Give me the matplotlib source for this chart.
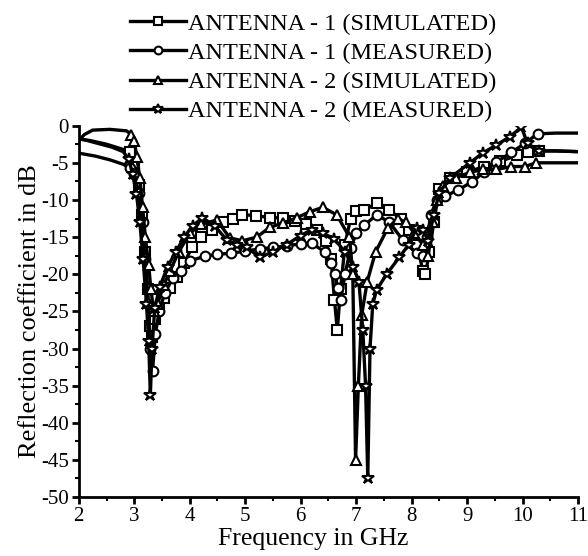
import matplotlib
matplotlib.use("Agg")
import matplotlib.pyplot as plt
from matplotlib.ticker import MultipleLocator

plt.rcParams['font.family'] = ['Liberation Serif', 'DejaVu Serif']
plt.rcParams['axes.unicode_minus'] = False

# ---- datos ----
labels = ['ANTENNA - 1 (SIMULATED)', 'ANTENNA - 1 (MEASURED)',
          'ANTENNA - 2 (SIMULATED)', 'ANTENNA - 2 (MEASURED)']

f_a1_sim = [2.0, 2.2, 2.5, 2.8, 2.92, 3.0, 3.08, 3.14, 3.2, 3.24, 3.28, 3.32, 3.38, 3.45,
            3.53, 3.65, 3.77, 3.9, 4.04, 4.2, 4.4, 4.6, 4.78, 4.95, 5.2, 5.44, 5.68, 5.9,
            6.1, 6.3, 6.45, 6.55, 6.61, 6.66, 6.72, 6.8, 6.9, 7.0, 7.15, 7.37, 7.6, 7.8,
            7.95, 8.1, 8.2, 8.25, 8.32, 8.4, 8.5, 8.7, 9.0, 9.3, 9.6, 9.9, 10.1, 10.3,
            10.6, 11.0]
s_a1_sim = [-1.8, -2.0, -2.5, -3.2, -3.6, -5, -8, -12, -17, -22, -27, -28.5, -26, -24.5,
            -23.2, -21.8, -20.4, -18.5, -16.4, -15, -14, -13, -12.5, -12.0, -12.1, -12.4,
            -12.4, -12.8, -13.3, -14, -15.5, -18, -23.5, -27.5, -22, -16, -12.5, -11.5,
            -11.4, -10.4, -11.4, -12.5, -14, -16, -19.5, -20, -17, -13, -8.5, -7, -6.3,
            -5.5, -4.8, -4, -3.6, -3.4, -3.4, -3.5]

f_a1_med = [2.0, 2.3, 2.56, 2.8, 2.92, 3.0, 3.08, 3.15, 3.2, 3.25, 3.29, 3.33, 3.38, 3.45,
            3.55, 3.7, 3.85, 4.0, 4.27, 4.49, 4.74, 4.99, 5.26, 5.5, 5.75, 6.0, 6.2, 6.43,
            6.55, 6.62, 6.67, 6.72, 6.8, 6.9, 7.0, 7.15, 7.37, 7.6, 7.84, 8.09, 8.2, 8.28,
            8.35, 8.45, 8.6, 8.83, 9.08, 9.3, 9.53, 9.8, 10.04, 10.27, 10.6, 11.0]
s_a1_med = [-3.7, -4.1, -4.6, -5.2, -5.7, -6.5, -9, -13, -18, -24, -30, -33, -28, -25,
            -22.5, -20.5, -19.5, -18.2, -17.6, -17.3, -17.2, -16.9, -16.6, -16.4, -16.2,
            -15.9, -15.8, -17.0, -18.5, -20, -21.9, -23.5, -20, -16.5, -14.5, -13.4, -12.0,
            -13, -15.4, -17.2, -17.5, -15, -12, -10, -9.5, -8.7, -7.6, -6.3, -4.9, -3.6,
            -2.4, -1.1, -1.0, -1.0]

f_a2_sim = [2.0, 2.1, 2.25, 2.56, 2.86, 2.95, 3.0, 3.045, 3.1, 3.15, 3.2, 3.26, 3.3, 3.35,
            3.42, 3.53, 3.65, 3.8, 4.0, 4.2, 4.49, 4.72, 4.95, 5.21, 5.44, 5.68, 5.93, 6.16,
            6.4, 6.65, 6.88, 6.94, 6.99, 7.04, 7.1, 7.2, 7.35, 7.57, 7.75, 7.9, 8.05, 8.2,
            8.3, 8.38, 8.45, 8.56, 8.8, 9.05, 9.28, 9.53, 9.8, 10.04, 10.25, 10.6, 11.0]
s_a2_sim = [-2.0, -1.2, -0.6, -0.5, -0.7, -1.2, -2.0, -4.2, -7, -11, -15, -18.8, -22, -25,
            -24, -21.5, -19.5, -17, -14.5, -13.3, -12.7, -15.1, -15.5, -15.0, -13.7, -13.1,
            -12.4, -11.6, -11.0, -12.0, -15.0, -20, -45, -35, -25.5, -21, -17, -13.8, -12.5,
            -13, -14.5, -16, -17.5, -13, -10, -8.1, -7, -6.3, -5.9, -5.9, -5.5, -5.5, -5.0,
            -5.0, -5.0]

f_a2_med = [2.0, 2.3, 2.6, 2.8, 2.9, 2.97, 3.04, 3.1, 3.16, 3.22, 3.26, 3.29, 3.32, 3.37,
            3.46, 3.6, 3.75, 3.9, 4.05, 4.23, 4.45, 4.67, 4.85, 5.03, 5.26, 5.5, 5.75, 6.0,
            6.2, 6.4, 6.6, 6.8, 6.95, 7.05, 7.12, 7.17, 7.21, 7.25, 7.3, 7.37, 7.55, 7.78,
            7.95, 8.09, 8.2, 8.3, 8.4, 8.5, 8.7, 9.05, 9.28, 9.53, 9.77, 9.98, 10.09, 10.3,
            10.6, 11.0]
s_a2_med = [-1.7, -2.3, -2.9, -3.5, -4.5, -6.5, -9.2, -13, -18, -24, -29, -36.3, -30, -24.5,
            -21.7, -19, -17, -15, -13.5, -12.4, -13.5, -15.4, -16, -16.4, -17.7, -17.0, -16,
            -14.8, -14, -14.5, -15.2, -17, -19, -21, -27.5, -35, -47.4, -30, -24, -22.1, -20,
            -17.7, -16, -13.8, -14, -15.5, -12, -9, -7, -5.0, -3.7, -2.6, -1.5, -0.2, -2.4,
            -3.4, -3.4, -3.5]

series = [(f_a1_sim, s_a1_sim, 's'), (f_a1_med, s_a1_med, 'o'),
          (f_a2_sim, s_a2_sim, '^'), (f_a2_med, s_a2_med, '*')]

fig = plt.figure(figsize=(5.88, 5.56), dpi=100)
ax = fig.add_axes([0.134, 0.106, 0.849, 0.668])

for (f, s, mk), lab in zip(series, labels):
    marcas = [i for i, v in enumerate(f) if 2.9 <= v <= 10.3]
    ms = 9 if mk == '*' else 7
    ax.plot(f, s, color='black', linewidth=2.4, marker=mk, markersize=ms,
            markerfacecolor='white', markeredgecolor='black', markeredgewidth=1.5,
            markevery=marcas, label=lab)

ax.set_xlim(2, 11)
ax.set_ylim(-50, 0)
ax.xaxis.set_major_locator(MultipleLocator(1))
ax.xaxis.set_minor_locator(MultipleLocator(0.5))
ax.yaxis.set_major_locator(MultipleLocator(5))
ax.yaxis.set_minor_locator(MultipleLocator(2.5))
ax.spines['top'].set_visible(False)
ax.spines['right'].set_visible(False)
ax.spines['left'].set_linewidth(2)
ax.spines['bottom'].set_linewidth(2)
ax.tick_params(which='major', direction='out', length=5, width=2, labelsize=15, pad=2)
ax.tick_params(which='minor', direction='out', length=3, width=1.5)
ax.set_xlabel('Frequency in GHz', fontsize=18.5)
ax.set_ylabel('Reflection coefficient in dB', fontsize=19, labelpad=0)
ax.xaxis.set_label_coords(0.47, -0.082)

leg = fig.legend(loc='upper left', bbox_to_anchor=(0.193, 1.008), frameon=False,
                 fontsize=17.5, handlelength=2.3, handletextpad=0.05, labelspacing=0.3,
                 borderpad=0.2, markerscale=0.8)

fig.savefig('out.png', dpi=100)
